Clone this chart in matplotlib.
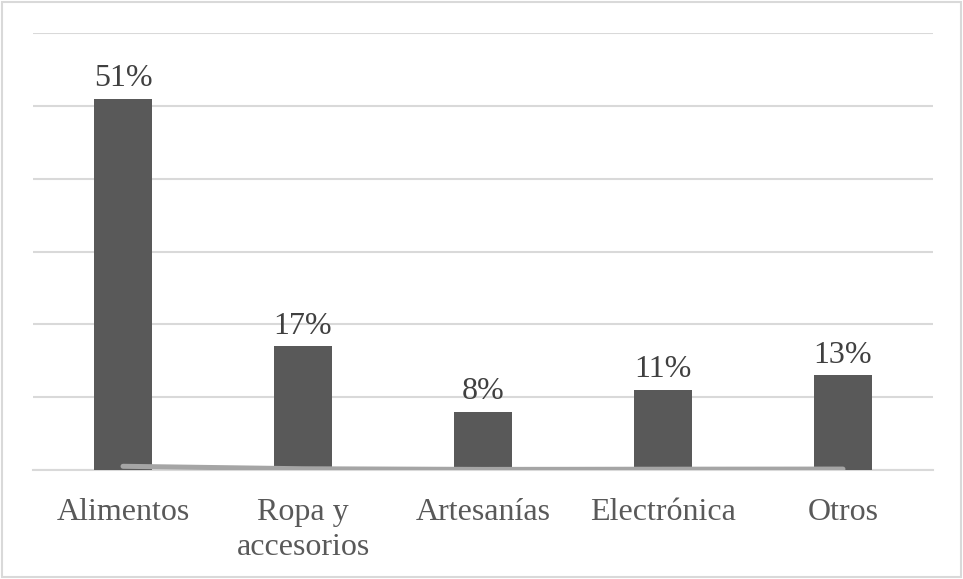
import matplotlib
matplotlib.use("Agg")
import matplotlib.pyplot as plt
from matplotlib.patches import Rectangle

categories = ["Alimentos", "Ropa y\naccesorios", "Artesanías", "Electrónica", "Otros"]
values = [51, 17, 8, 11, 13]
line_values = [0.51, 0.17, 0.08, 0.11, 0.13]
labels = ["51%", "17%", "8%", "11%", "13%"]

plt.rcParams['font.family'] = ['Liberation Serif', 'DejaVu Serif']

fig = plt.figure(figsize=(9.63, 5.79), dpi=100)
ax = fig.add_axes([33/963, 1 - 470/579, 900/963, 437/579])

x = list(range(len(categories)))
ax.bar(x, values, width=0.32, color="#595959", zorder=3)
ax.plot(x, line_values, color="#a5a5a5", linewidth=3.6, solid_capstyle="round", zorder=4)

for xi, v, lab in zip(x, values, labels):
    ax.annotate(lab, (xi, v), xytext=(0, 4), textcoords="offset points",
                ha="center", va="bottom", fontsize=23, color="#404040")

ax.set_xlim(-0.5, 4.5)
ax.set_ylim(0, 60)
ax.set_yticks(range(0, 61, 10))
ax.yaxis.grid(True, color="#d9d9d9", linewidth=1.5, zorder=0)
ax.tick_params(axis="y", left=False, labelleft=False)
ax.set_xticks(x)
ax.set_xticklabels(categories, fontsize=23, color="#595959", linespacing=1.3)
ax.tick_params(axis="x", length=0, pad=20)
for s in ["top", "right", "left"]:
    ax.spines[s].set_visible(False)
ax.spines["bottom"].set_color("#d9d9d9")
ax.spines["bottom"].set_linewidth(1.5)

fig.patches.append(Rectangle((0.002, 0.003), 0.996, 0.994, transform=fig.transFigure,
                             fill=False, edgecolor="#d9d9d9", linewidth=1.5))

fig.savefig("out.png", dpi=100)
